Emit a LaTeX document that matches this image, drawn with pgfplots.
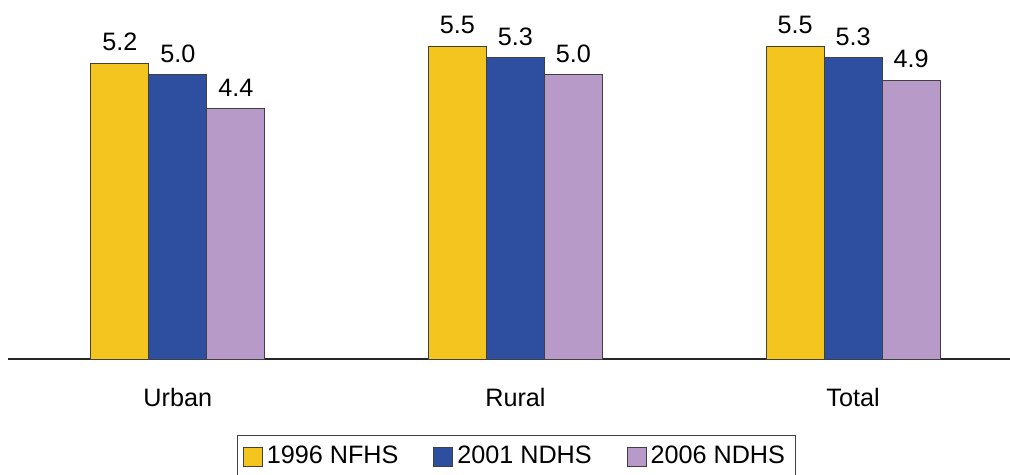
\documentclass[border=0pt]{standalone}
\usepackage{pgfplots}
\pgfplotsset{compat=1.18}
\usepackage{fontspec}
\setmainfont{Liberation Sans}
\definecolor{cyel}{HTML}{F5C51F}
\definecolor{cblu}{HTML}{2E4FA0}
\definecolor{cpur}{HTML}{B89AC8}
\newcommand{\lblfont}{\fontsize{12.6}{14}\selectfont}
\begin{document}
\begin{tikzpicture}
\begin{axis}[
    ybar=0pt,
    bar width=29pt,
    width=501pt, height=179.5pt,
    scale only axis,
    xmin=-0.503, xmax=2.465,
    ymin=0, ymax=6.31,
    axis x line*=bottom,
    axis y line=none,
    x axis line style={thick, black!85},
    xtick={0,1,2},
    xticklabels={Urban, Rural, Total},
    major tick length=0pt,
    xticklabel style={yshift=-11pt, font=\lblfont},
    nodes near coords,
    nodes near coords style={font=\lblfont, yshift=2.5pt,
        /pgf/number format/.cd, fixed, fixed zerofill, precision=1, assume math mode=true},
    every axis plot/.append style={draw=black!75, thin},
    clip=false,
    legend columns=3,
    legend style={at={(axis description cs:0.507,-0.211)}, anchor=north,
        draw=black!75, font=\lblfont,
        /tikz/every even column/.append style={column sep=15.5pt},
        inner xsep=3pt, inner ysep=3.5pt},
    legend image code/.code={\draw[#1] (0pt,-4.75pt) rectangle (9.5pt,4.75pt);},
]
\addplot[fill=cyel] coordinates {(0,5.2) (1,5.5) (2,5.5)};
\addplot[fill=cblu] coordinates {(0,5.0) (1,5.3) (2,5.3)};
\addplot[fill=cpur] coordinates {(0,4.4) (1,5.0) (2,4.9)};
\legend{1996 NFHS, 2001 NDHS, 2006 NDHS\hspace{7pt}}
\coordinate (bl) at (rel axis cs:0,0);
\coordinate (tr) at (rel axis cs:1,1);
\end{axis}
\pgfresetboundingbox
\path ([xshift=-4pt,yshift=-58pt]bl) rectangle (tr);
\end{tikzpicture}
\end{document}
